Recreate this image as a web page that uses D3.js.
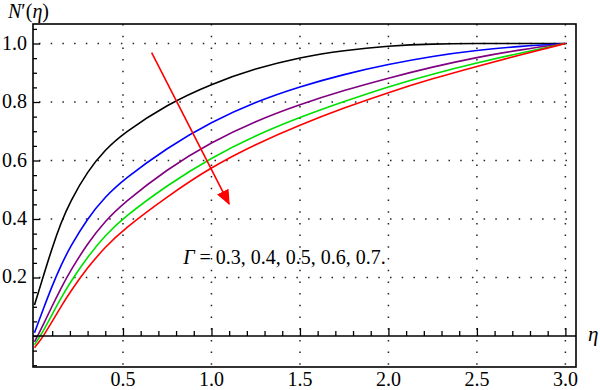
<!doctype html>
<html lang="en">
<head>
<meta charset="utf-8">
<title>N'(eta) profiles</title>
<style>
body { margin: 0; background: #fff; }
svg text { font-family: "Liberation Serif", "DejaVu Serif", serif; fill: #000; }
</style>
</head>
<body>
<script src="https://cdn.jsdelivr.net/npm/d3@7/dist/d3.min.js"></script>
<script>

// eta sample points and N'(eta), one array per Gamma
var etas   = [0, 0.025, 0.05, 0.1, 0.15, 0.2, 0.3, 0.4, 0.5, 0.75, 1.0, 1.25, 1.5, 1.75, 2.0, 2.25, 2.5, 2.75, 3.0];
var gam03  = [0.106, 0.155, 0.205, 0.302, 0.388, 0.458, 0.564, 0.637, 0.692, 0.792, 0.862, 0.915, 0.953, 0.977, 0.992, 0.999, 1.0, 1.0, 1.0];
var gam04  = [0.011, 0.052, 0.093, 0.172, 0.242, 0.303, 0.403, 0.476, 0.533, 0.644, 0.732, 0.801, 0.853, 0.895, 0.929, 0.957, 0.977, 0.991, 1.0];
var gam05  = [-0.02, 0.009, 0.039, 0.103, 0.164, 0.22, 0.317, 0.393, 0.453, 0.571, 0.663, 0.735, 0.792, 0.84, 0.882, 0.92, 0.953, 0.979, 1.0];
var gam06  = [-0.03, -0.007, 0.017, 0.074, 0.13, 0.182, 0.271, 0.344, 0.403, 0.516, 0.61, 0.686, 0.748, 0.802, 0.853, 0.896, 0.934, 0.968, 1.0];
var gam07  = [-0.04, -0.021, 0.0, 0.05, 0.101, 0.149, 0.235, 0.304, 0.363, 0.477, 0.578, 0.656, 0.722, 0.78, 0.833, 0.88, 0.922, 0.962, 1.0];
var seriesNames  = ["0.3", "0.4", "0.5", "0.6", "0.7"];
var seriesColors = ["#000000", "#0000ff", "#800080", "#00e000", "#ff0000"];

var xTicks = [0.5, 1.0, 1.5, 2.0, 2.5, 3.0];
var yTicks = [0.2, 0.4, 0.6, 0.8, 1.0];

// arrow through the curves, in data units [eta, N']
var arrowFrom = [0.662, 0.969];
var arrowTo   = [1.10, 0.451];

var series = [gam03, gam04, gam05, gam06, gam07];

var W = 600, H = 390;
var svg = d3.select("body").append("svg")
	.attr("width", W)
	.attr("height", H);

var box = {left: 33, right: 576, top: 24, bottom: 367};

var x = d3.scaleLinear()
	.domain([-0.0085, 3.06])
	.range([box.left, box.right]);

var y = d3.scaleLinear()
	.domain([-0.106, 1.0667])
	.range([box.bottom, box.top]);

// dotted grid
svg.selectAll(".vgrid")
	.data(xTicks)
	.join("line")
	.attr("x1", d => x(d)).attr("x2", d => x(d))
	.attr("y1", box.top).attr("y2", box.bottom)
	.attr("stroke", "#222")
	.attr("stroke-width", 1.5)
	.attr("stroke-dasharray", "1.5,10.2");

svg.selectAll(".hgrid")
	.data(yTicks)
	.join("line")
	.attr("x1", box.left).attr("x2", box.right)
	.attr("y1", d => y(d)).attr("y2", d => y(d))
	.attr("stroke", "#222")
	.attr("stroke-width", 1.5)
	.attr("stroke-dasharray", "1.5,10.2")
	.attr("stroke-dashoffset", -6);

// curves
svg.append("clipPath").attr("id", "clip")
	.append("rect")
	.attr("x", box.left).attr("y", box.top)
	.attr("width", box.right - box.left)
	.attr("height", box.bottom - box.top);

var line = d3.line()
	.x((d, i) => x(etas[i]))
	.y(d => y(d))
	.curve(d3.curveBasis);

svg.append("g").attr("clip-path", "url(#clip)")
	.selectAll("path")
	.data(series)
	.join("path")
	.attr("d", line)
	.attr("fill", "none")
	.attr("stroke", (d, i) => seriesColors[i])
	.attr("stroke-width", 1.6);

// eta axis at N' = 0 with ticks every 0.1
var xAxis = d3.axisTop(x)
	.tickValues(d3.range(1, 31).map(d => d / 10))
	.tickSize(5)
	.tickFormat("");
var gx = svg.append("g")
	.attr("transform", "translate(0," + y(0) + ")")
	.call(xAxis);
gx.select(".domain").remove();
gx.selectAll(".tick line")
	.attr("stroke", "#000")
	.attr("stroke-width", 1.3)
	.attr("y2", (d, i) => ((i + 1) % 5 === 0 ? -8 : -5));

svg.append("line")
	.attr("x1", box.left).attr("x2", box.right)
	.attr("y1", y(0)).attr("y2", y(0))
	.attr("stroke", "#000")
	.attr("stroke-width", 1.6);

// ticks on the left edge every 0.05
var yAxis = d3.axisRight(y)
	.tickValues(d3.range(-2, 22).map(d => d * 0.05))
	.tickSize(4)
	.tickFormat("");
var gy = svg.append("g")
	.attr("transform", "translate(" + box.left + ",0)")
	.call(yAxis);
gy.select(".domain").remove();
gy.selectAll(".tick line")
	.attr("stroke", "#000")
	.attr("stroke-width", 1.3)
	.attr("x2", d => (Math.abs(d * 5 - Math.round(d * 5)) < 1e-6 && d > 0 ? 7 : 4));

// frame
svg.append("rect")
	.attr("x", box.left).attr("y", box.top)
	.attr("width", box.right - box.left)
	.attr("height", box.bottom - box.top)
	.attr("fill", "none")
	.attr("stroke", "#000")
	.attr("stroke-width", 1.6);

// tick labels
svg.selectAll(".xlab")
	.data(xTicks)
	.join("text")
	.attr("x", d => x(d))
	.attr("y", 386)
	.attr("text-anchor", "middle")
	.attr("font-size", 20)
	.text(d => d.toFixed(1));

svg.selectAll(".ylab")
	.data(yTicks)
	.join("text")
	.attr("x", 27)
	.attr("y", d => y(d) + 6)
	.attr("text-anchor", "end")
	.attr("font-size", 20)
	.text(d => d.toFixed(1));

// axis titles
var yt = svg.append("text")
	.attr("x", 8)
	.attr("y", 18)
	.attr("font-size", 20);
yt.append("tspan").attr("font-style", "italic").text("N");
yt.append("tspan").text("\u2032(");
yt.append("tspan").attr("font-style", "italic").text("\u03b7");
yt.append("tspan").text(")");

svg.append("text")
	.attr("x", 588)
	.attr("y", 341)
	.attr("font-size", 21)
	.attr("font-style", "italic")
	.text("\u03b7");

// arrow
svg.append("defs").append("marker")
	.attr("id", "head")
	.attr("markerUnits", "userSpaceOnUse")
	.attr("markerWidth", 16).attr("markerHeight", 14)
	.attr("refX", 14).attr("refY", 6.5)
	.attr("orient", "auto")
	.append("path")
	.attr("d", "M0,0 L15,6.5 L0,13 Z")
	.attr("fill", "#ff0000");

svg.append("line")
	.attr("x1", x(arrowFrom[0])).attr("y1", y(arrowFrom[1]))
	.attr("x2", x(arrowTo[0])).attr("y2", y(arrowTo[1]))
	.attr("stroke", "#ff0000")
	.attr("stroke-width", 1.6)
	.attr("marker-end", "url(#head)");

// Gamma label
var gl = svg.append("text")
	.attr("x", x(0.84))
	.attr("y", y(0.245))
	.attr("font-size", 20);
gl.append("tspan").attr("font-style", "italic").text("\u0393");
gl.append("tspan").text(" = " + seriesNames.join(", ") + ".");

</script>
</body>
</html>
